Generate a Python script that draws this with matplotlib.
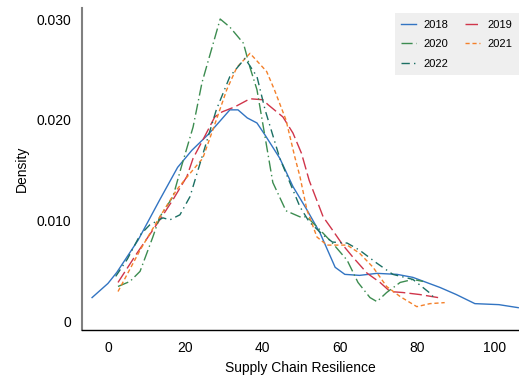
import numpy as np
import matplotlib
matplotlib.use("Agg")
import matplotlib.pyplot as plt
from matplotlib.ticker import FuncFormatter

plt.rcParams['font.family'] = ['Liberation Sans', 'DejaVu Sans']

# density curves per year (x = supply chain resilience, y = density)
x_2018 = [-4.1, 0, 2.3, 7.8, 13.4, 18, 21.7, 26, 31.5, 33.6, 36, 38.5, 40.6, 44.4, 47.8, 51.4, 54.8, 58.7, 61.2, 65, 69.5, 74.7, 78.8, 85.8, 90, 94.8, 101, 106]
y_2018 = [0.0024, 0.0038, 0.0049, 0.0081, 0.0121, 0.0153, 0.0170, 0.0186, 0.0210, 0.0210, 0.0202, 0.0197, 0.0185, 0.0162, 0.0134, 0.0111, 0.0088, 0.0054, 0.0047, 0.0046, 0.0048, 0.0047, 0.0044, 0.0034, 0.0027, 0.0018, 0.0017, 0.0014]

x_2019 = [2.6, 7.5, 13.4, 16.8, 20.4, 22, 24.5, 27.6, 29.5, 32.8, 36.7, 40, 41.4, 45.2, 47.8, 50, 52, 55.6, 58, 60.7, 63.3, 67, 70.3, 72.9, 76.2, 80.6, 85.3]
y_2019 = [0.0039, 0.0068, 0.0101, 0.0121, 0.0144, 0.0162, 0.0180, 0.0203, 0.0208, 0.0213, 0.0221, 0.0220, 0.0215, 0.0203, 0.0187, 0.0167, 0.0140, 0.0104, 0.0091, 0.0076, 0.0064, 0.0048, 0.0039, 0.0030, 0.0029, 0.0027, 0.0024]

x_2020 = [2.6, 5.7, 8.3, 11.6, 13.4, 16.8, 19, 22, 24.3, 29, 31.5, 35, 36.7, 38.5, 40.6, 42.6, 46, 49.6, 51.4, 54.8, 58, 61.8, 64.6, 67.7, 69.5, 72, 75.5, 78.8, 81.4]
y_2020 = [0.0035, 0.0040, 0.0050, 0.0084, 0.0104, 0.0124, 0.0154, 0.0193, 0.0237, 0.0300, 0.0292, 0.0276, 0.0252, 0.0230, 0.0183, 0.0138, 0.0110, 0.0104, 0.0104, 0.0091, 0.0078, 0.0061, 0.0039, 0.0024, 0.0020, 0.0029, 0.0039, 0.0042, 0.0040]

x_2021 = [2.6, 8.3, 13.4, 17.8, 21.2, 24.5, 28, 30.7, 33.3, 36.7, 41, 43, 46, 48.3, 49.6, 51.4, 54, 56.6, 61.8, 65, 68.5, 72, 75.5, 79.8, 83.2, 87]
y_2021 = [0.0030, 0.0071, 0.0104, 0.0131, 0.0147, 0.0162, 0.0200, 0.0230, 0.0252, 0.0266, 0.0248, 0.0230, 0.0200, 0.0163, 0.0144, 0.0111, 0.0084, 0.0076, 0.0076, 0.0068, 0.0054, 0.0035, 0.0025, 0.0015, 0.0018, 0.0019]

x_2022 = [2, 5, 8.3, 10.8, 14.2, 16, 18.6, 21.2, 23.8, 28, 31.5, 35.4, 38.5, 40.6, 44.4, 49.6, 52, 55.6, 58, 61.8, 65, 69.5, 73.6, 78.8, 83, 84]
y_2022 = [0.0045, 0.0062, 0.0086, 0.0096, 0.0103, 0.0101, 0.0106, 0.0124, 0.0157, 0.0210, 0.0243, 0.0261, 0.0243, 0.0210, 0.0162, 0.0114, 0.0099, 0.0086, 0.0079, 0.0078, 0.0071, 0.0058, 0.0047, 0.0042, 0.0029, 0.0025]

series = [
    ('2018', x_2018, y_2018, '#3274c2', '-'),
    ('2019', x_2019, y_2019, '#d0354a', (0, (9, 3))),
    ('2020', x_2020, y_2020, '#3c8c50', (0, (8, 2.5, 1, 2.5))),
    ('2021', x_2021, y_2021, '#f4802a', (0, (3, 2))),
    ('2022', x_2022, y_2022, '#1b6f63', (0, (6, 3, 1, 3))),
]

fig = plt.figure(figsize=(5.19, 3.77), dpi=100)
ax = fig.add_axes([0.158, 0.125, 0.842, 0.854])

lines = {}
for name, xs, ys, col, ls in series:
    lines[name] = ax.plot(xs, ys, color=col, linestyle=ls, linewidth=1.0, label=name)[0]

ax.set_xlim(-6.7, 106.2)
ax.set_ylim(-0.0008, 0.0311)
ax.set_xticks([0, 20, 40, 60, 80, 100])
ax.set_yticks([0, 0.01, 0.02, 0.03])
ax.yaxis.set_major_formatter(FuncFormatter(lambda v, p: '0' if v == 0 else '%.3f' % v))
ax.tick_params(length=0, labelsize=10, pad=8)
ax.set_xlabel('Supply Chain Resilience', fontsize=10, labelpad=4)
ax.set_ylabel('Density', fontsize=10, labelpad=5)

for s in ['top', 'right']:
    ax.spines[s].set_visible(False)
ax.spines['left'].set_color('#808080')
ax.spines['left'].set_linewidth(1.5)
ax.spines['bottom'].set_color('black')
ax.spines['bottom'].set_linewidth(1.0)

# legend reads row by row: 2018 2019 / 2020 2021 / 2022
order = ['2018', '2020', '2022', '2019', '2021']
leg = ax.legend([lines[k] for k in order], order, ncol=2, loc='upper right',
                bbox_to_anchor=(1.0, 0.9655), bbox_transform=fig.transFigure,
                borderaxespad=0, fontsize=8, frameon=True, fancybox=False,
                handlelength=1.3, handletextpad=0.7, columnspacing=1.5,
                borderpad=0.6, labelspacing=0.85)
leg.get_frame().set_facecolor('#efefef')
leg.get_frame().set_edgecolor('none')
leg.get_frame().set_alpha(1)

fig.savefig('out.png', dpi=100)
